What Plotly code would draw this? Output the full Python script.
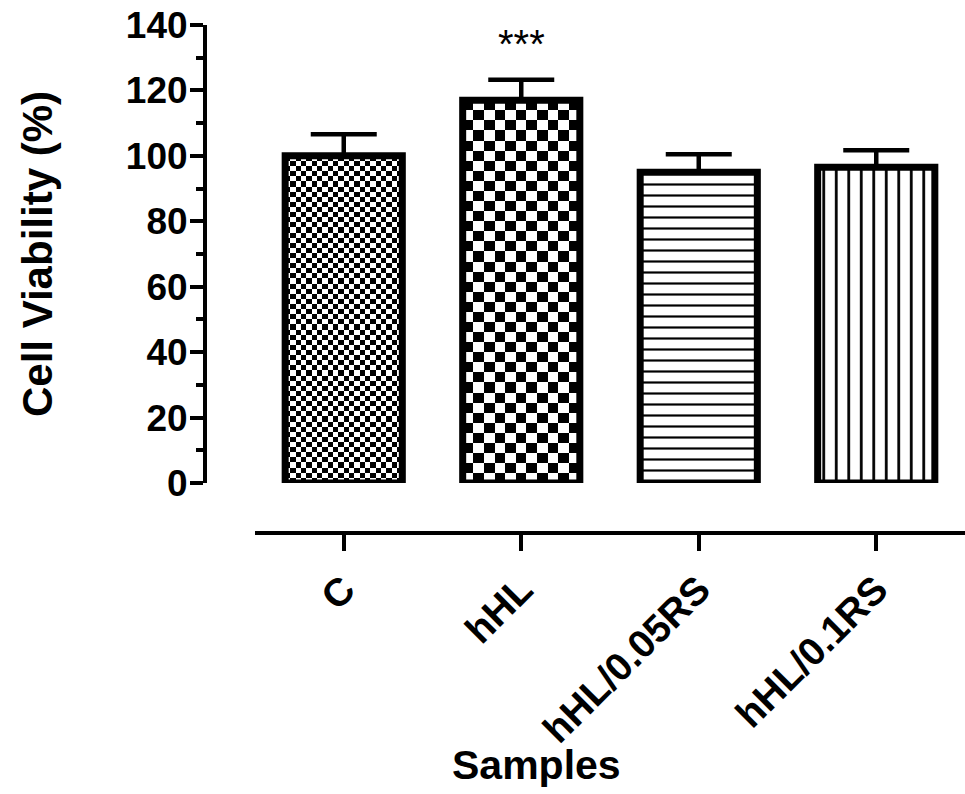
import numpy as np
import plotly.graph_objects as go

categories = ["C", "hHL", "hHL/0.05RS", "hHL/0.1RS"]
viability = [100.0, 117.0, 95.0, 96.5]
sd = [6.6, 6.3, 5.5, 5.2]
signif = ["", "***", "", ""]

W, H = 965, 794
ML, MR, MT, MB = 205, 0, 25, 261
paper_w = W - ML - MR
paper_h = H - MT - MB
x_pos = list(range(len(categories)))
bar_w = 0.66

fig = go.Figure()

# checkerboard fills for the first two bars (cols, rows)
checker = {0: (22, 64), 1: (11, 38)}
for i, (nc, nr) in checker.items():
    xe = np.linspace(x_pos[i] - bar_w / 2, x_pos[i] + bar_w / 2, nc + 1)
    ye = np.linspace(0, viability[i], nr + 1)
    z = (np.add.outer(np.arange(nr), np.arange(nc)) % 2).astype(float)
    fig.add_trace(go.Heatmap(x=xe, y=ye, z=z, zmin=0, zmax=1,
                             colorscale=[[0, "white"], [1, "black"]],
                             showscale=False, hoverinfo="skip", zsmooth=False))

fills = [
    dict(color="rgba(0,0,0,0)"),
    dict(color="rgba(0,0,0,0)"),
    dict(color="white", pattern=dict(shape="-", fgcolor="black", bgcolor="white",
                                     size=11, solidity=0.2, fillmode="replace")),
    dict(color="white", pattern=dict(shape="|", fgcolor="black", bgcolor="white",
                                     size=12.5, solidity=0.22, fillmode="replace")),
]
for i in x_pos:
    m = dict(fills[i])
    m["line"] = dict(color="black", width=7)
    fig.add_trace(go.Bar(
        x=[x_pos[i]], y=[viability[i]], width=bar_w, marker=m,
        error_y=dict(type="data", array=[sd[i]], arrayminus=[0], symmetric=False,
                     color="black", thickness=4.5, width=33),
        showlegend=False, hoverinfo="skip"))

FAM = "Liberation Sans, Arial, sans-serif"

for i, s in enumerate(signif):
    if s:
        fig.add_annotation(x=x_pos[i], y=viability[i] + sd[i] + 11, text=s, showarrow=False,
                           font=dict(family=FAM, size=40, color="black"),
                           xanchor="center", yanchor="middle")

fig.add_annotation(x=(37 - ML) / paper_w, y=0.5 + 25 / paper_h,
                   xref="paper", yref="paper", text="Cell Viability (%)", textangle=-90,
                   showarrow=False, font=dict(family=FAM, size=42, color="black", weight="bold"),
                   xanchor="center", yanchor="middle")
fig.add_annotation(x=(536 - ML) / paper_w, y=(533 - 765) / paper_h, xref="paper", yref="paper",
                   text="Samples", showarrow=False,
                   font=dict(family=FAM, size=41, color="black", weight="bold"),
                   xanchor="center", yanchor="middle")

fig.update_layout(
    width=W, height=H, margin=dict(l=ML, r=MR, t=MT, b=MB),
    paper_bgcolor="white", plot_bgcolor="white",
    barmode="overlay",
    xaxis=dict(domain=[50 / paper_w, 1], range=[-0.5, 3.5], anchor="free", position=0,
               tickmode="array", tickvals=x_pos, ticktext=categories, tickangle=-45,
               showline=True, linecolor="black", linewidth=4, ticks="outside",
               ticklen=16, tickwidth=4, tickcolor="black", showgrid=False,
               zeroline=False,
               tickfont=dict(family=FAM, size=39, color="black", weight="bold")),
    yaxis=dict(domain=[50 / paper_h, 1], range=[0, 140], anchor="free", position=0,
               tickmode="linear", tick0=0, dtick=20,
               showline=True, linecolor="black", linewidth=4, ticks="outside",
               ticklen=13, tickwidth=4, tickcolor="black", showgrid=False,
               zeroline=False, ticklabelstandoff=-5,
               tickfont=dict(family=FAM, size=37, color="black", weight="bold"),
               minor=dict(dtick=10, ticks="outside", ticklen=7, tickwidth=4, tickcolor="black",
                          showgrid=False)),
)

fig.write_html("out.html")
